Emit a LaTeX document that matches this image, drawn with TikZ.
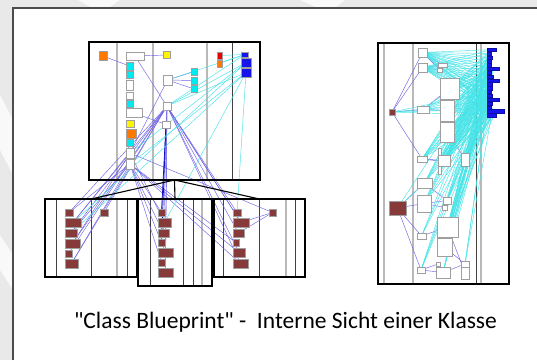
\documentclass[tikz,border=0pt]{standalone}
\usepackage{fontspec}
\setmainfont{Carlito}

\definecolor{callblue}{RGB}{112,100,228}
\definecolor{accesscyan}{RGB}{70,228,232}
\definecolor{attrblue}{RGB}{20,20,235}
\definecolor{brownred}{RGB}{135,58,58}
\definecolor{methorange}{RGB}{255,120,0}
\definecolor{methyellow}{RGB}{255,245,0}
\definecolor{methcyan}{RGB}{0,235,240}
\definecolor{methred}{RGB}{235,0,0}

\pgfdeclarelayer{back}
\pgfdeclarelayer{links}
\pgfsetlayers{back,links,main}

% one small method/attribute box of a blueprint
\newcommand{\mcell}[5]{\node[cellbox, fill=#2, minimum width=#4pt, minimum height=#5pt] (#1) at (#3) {};}

\begin{document}
\begin{tikzpicture}[x=1pt,y=-1pt,
  classframe/.style={draw=black, line width=1.1pt, inner sep=0, outer sep=0},
  lane/.style={gray!55, line width=1.2pt},
  thinlane/.style={black!75, line width=0.6pt},
  cellbox/.style={draw=gray!75, line width=0.6pt, inner sep=0, outer sep=0},
  attrbar/.style={draw=attrblue!70!black, fill=attrblue, line width=0.4pt, inner sep=0, outer sep=0, minimum height=3.3pt, anchor=north west},
  calledge/.style={callblue, line width=0.45pt},
  accessedge/.style={accesscyan, line width=0.45pt},
  directedge/.style={attrblue!85!black, line width=0.7pt}]

\useasboundingbox (0,0) rectangle (537,360);

% Draw the slide background and the white panel
\begin{pgfonlayer}{back}
\fill[gray!17] (0,0) rectangle (537,360);
\fill[gray!5] (78,0) -- (120,0) -- (108,8) -- (92,8) -- cycle;
\fill[gray!5] (300,0) -- (345,0) -- (335,8) -- (318,8) -- cycle;
\fill[gray!5] (0,95) -- (13,120) -- (13,175) -- (0,150) -- cycle;
\fill[gray!5] (0,235) -- (13,255) -- (13,290) -- (0,270) -- cycle;
\fill[white] (13,8) rectangle (537,360);
\end{pgfonlayer}
\draw[black!70, line width=1.4pt] (13,360) -- (13,8) -- (537,8);

% Draw the class frames
\node[classframe, minimum width=171pt, minimum height=138pt] (mainbox) at (174.5,111) {};
\node[classframe, minimum width=92pt, minimum height=78pt] (subA) at (91,238) {};
\node[classframe, minimum width=74pt, minimum height=87pt] (subB) at (175,242.5) {};
\node[classframe, minimum width=91pt, minimum height=78pt] (subC) at (259.5,238) {};
\node[classframe, minimum width=131pt, minimum height=241pt] (rightbox) at (443.5,163.5) {};

% Draw the layer lanes
\begin{pgfonlayer}{back}
\draw[lane] (117,42) -- (117,180);
\draw[lane] (153,42) -- (153,180);
\draw[lane] (207,42) -- (207,180);
\draw[thinlane] (232,42) -- (232,180);
\draw[thinlane] (56,199) -- (56,277);
\draw[thinlane] (91,199) -- (91,277);
\draw[lane] (117,199) -- (117,277);
\draw[thinlane] (127,199) -- (127,277);
\draw[thinlane] (150,199) -- (150,286);
\draw[thinlane] (183,199) -- (183,286);
\draw[thinlane] (193,199) -- (193,286);
\draw[lane] (202,199) -- (202,286);
\draw[thinlane] (223,199) -- (223,277);
\draw[thinlane] (259,199) -- (259,277);
\draw[lane] (286,199) -- (286,277);
\draw[thinlane] (295,199) -- (295,277);
\draw[lane] (384,43) -- (384,284);
\draw[lane] (413,43) -- (413,284);
\draw[thinlane] (476,43) -- (476,284);
\draw[lane] (481,43) -- (481,284);
\end{pgfonlayer}

% Draw the inheritance fan
\draw[line width=1.1pt] (mainbox.south) -- (subA.north);
\draw[line width=1.1pt] (mainbox.south) -- (subB.north);
\draw[line width=1.1pt] (mainbox.south) -- (subC.north);

% Draw the boxes of the main class
\mcell{mo1}{methorange}{103,56}{8}{9}
\mcell{mw1}{white}{135,56}{18}{8}
\mcell{my1}{methyellow}{166.5,55}{7}{7}
\mcell{mc1}{methcyan}{129.5,66}{7}{8}
\mcell{mc2}{methcyan}{129.5,74.5}{7}{7}
\mcell{mw2}{white}{129.5,85}{7}{10}
\mcell{mw3}{white}{129.5,95.5}{7}{7}
\mcell{mc3}{methcyan}{129.5,103.5}{7}{7}
\mcell{mw4}{white}{134,113}{16}{9}
\mcell{my2}{methyellow}{130,123.5}{8}{7}
\mcell{mo2}{methorange}{131,133.5}{10}{9}
\mcell{mc4}{methcyan}{129.5,142.5}{7}{7}
\mcell{mw5}{white}{130,153}{8}{10}
\mcell{mw6}{white}{130,164}{8}{10}
\mcell{ma1}{white}{167.5,80}{9}{10}
\mcell{ma2}{white}{167,106}{8}{8}
\mcell{ma3}{white}{166,124.5}{8}{7}
\mcell{mc5}{methcyan}{194,71.5}{6}{7}
\mcell{mc6}{methcyan}{194,80.5}{6}{7}
\mcell{mc7}{methcyan}{194,89}{6}{7}
\mcell{mr1}{methred}{219.5,55.5}{5}{7}
\mcell{mo3}{methorange}{219.5,63.5}{5}{7}
\mcell{mb1}{attrblue}{244.5,54.5}{7}{5}
\mcell{mb2}{attrblue}{246,62.5}{10}{9}
\mcell{mb3}{attrblue}{246,72.5}{10}{9}

% Draw the boxes of the three subclasses
\mcell{p1}{brownred}{69,212.5}{8}{7}
\mcell{p2}{brownred}{73,222.5}{16}{9}
\mcell{p3}{brownred}{71,233}{12}{8}
\mcell{p4}{brownred}{72.5,243.5}{15}{9}
\mcell{p5}{brownred}{68.5,253.5}{7}{7}
\mcell{p6}{brownred}{71.5,263.5}{13}{9}
\mcell{p7}{brownred}{104,212.5}{8}{7}
\mcell{q1}{brownred}{161.5,212.5}{7}{7}
\mcell{q2}{brownred}{164.5,222.5}{13}{9}
\mcell{q3}{brownred}{163.5,233}{11}{8}
\mcell{q4}{brownred}{161.5,242.5}{7}{7}
\mcell{q5}{brownred}{165.5,252.5}{15}{9}
\mcell{q6}{brownred}{161.5,262.5}{7}{7}
\mcell{q7}{brownred}{165.5,272.5}{15}{9}
\mcell{r1}{brownred}{237,212.5}{8}{7}
\mcell{r2}{brownred}{241,222.5}{16}{9}
\mcell{r3}{brownred}{238.5,233}{11}{8}
\mcell{r4}{brownred}{236,242.5}{6}{7}
\mcell{r5}{brownred}{239,252.5}{12}{9}
\mcell{r6}{brownred}{240.5,263.5}{15}{9}
\mcell{r7}{brownred}{272.5,212.5}{7}{7}

% Draw the boxes of the second class
\mcell{rw1}{white}{422.5,52.5}{9}{9}
\mcell{rw2}{white}{422.5,67.5}{9}{9}
\mcell{rs1}{white}{442.5,65}{9}{4}
\mcell{rs2}{white}{440,70}{5}{4}
\mcell{rbr1}{brownred}{392,112}{6}{6}
\mcell{rw3}{white}{423,109.5}{12}{7}
\mcell{rbigA}{white}{449.5,88.5}{19}{21}
\mcell{rbigB}{white}{447,110.5}{14}{21}
\mcell{rbigC}{white}{447,132}{14}{20}
\mcell{rw4}{white}{422,159}{10}{6}
\mcell{rthin}{white}{439.5,161}{3}{26}
\mcell{rbox}{white}{444.5,160.5}{12}{11}
\mcell{rtall}{white}{465.5,159.5}{8}{13}
\mcell{rw5}{white}{424.5,183}{15}{10}
\mcell{rw6}{white}{424,203.5}{14}{17}
\mcell{rsp1}{white}{447,200.5}{8}{7}
\mcell{rsp2}{white}{445,207.5}{5}{5}
\mcell{rbr2}{brownred}{397.5,208}{17}{14}
\mcell{rbig}{white}{447.5,227}{21}{20}
\mcell{rbig2}{white}{444.5,247}{15}{18}
\mcell{rw7}{white}{421.5,236}{9}{6}
\mcell{rw8}{white}{421,270}{8}{6}
\mcell{rsm}{white}{438,264}{4}{4}
\mcell{rbox2}{white}{443,272.5}{14}{11}
\mcell{rpair1}{white}{465,264}{8}{6}
\mcell{rpair2}{white}{465,273}{8}{12}

% Draw the attribute bars
\foreach \w [count=\i] in {9,4.5,5,4.5,4.5,12,4.5,6,12,5,5,4.5,5,12,5,4.5,17,9}
  \node[attrbar, minimum width=\w pt] (bar\i) at (487,{48+3.85*(\i-1)}) {};

% Draw the calls and accesses
\begin{pgfonlayer}{links}
\foreach \a/\b in {mo1/mc1, mw1/my1, mw1/r2, ma1/mc5, ma1/mc6, ma1/mc7, ma1/mw5, mw4/ma3,
    ma2/p1, ma2/p2, ma2/p3, ma2/p4, ma2/p5, ma2/p6, ma2/p7, ma2/q1, ma2/q3, ma2/q5, ma2/q7,
    ma2/r1, ma2/r2, ma2/r3, ma2/r5, ma2/r6, mw5/p2, mw5/p4, mw5/q2, mw5/r7,
    mw6/p1, mw6/p3, mw6/p6, mw6/q1, mw6/q3, mw6/q5, mw6/q6, mw6/r4, mw6/r5, mw6/r6,
    r7/r2, r7/r3}
  \draw[calledge] (\a) -- (\b);
\draw[directedge] (ma3) -- (q1);
\draw[directedge] (ma3) -- (q4);
\foreach \a/\b in {mr1/mb1, mo3/mb1, mb1/ma1, mb1/ma2, mb2/ma2, mb3/ma2, mb2/mw5, mb3/mw6,
    mb2/p2, mb3/p3, mb3/q2, mb3/r1}
  \draw[accessedge] (\a) -- (\b);

\foreach \a/\b in {rbr1/rw1, rbr1/rw2, rbr1/rw3, rbr1/rw4, rw1/rs1, rw1/rs2, rw2/rs1, rw2/rs2,
    rw3/rbigA, rw3/rbigB, rbigC/rtall, rw4/rthin, rw4/rbox, rbr2/rw5, rbr2/rw6, rbr2/rw7,
    rbr2/rw8, rw6/rsp1, rw6/rsp2, rw5/rsp1, rw7/rbig, rbig2/rpair1, rw8/rsm, rw8/rbox2,
    rbox2/rpair1, rbig/rpair2}
  \draw[calledge] (\a) -- (\b);
\foreach \a/\b in {rbr1/rbigB, rbr2/rw5, rbr2/rbigC}
  \draw[accessedge] (\a) -- (\b);
\foreach \i in {1,...,18} {
  \draw[accessedge] (rw1) -- (bar\i);
  \draw[accessedge] (rw2) -- (bar\i);
  \draw[accessedge] (rbox) -- (bar\i);
}
\foreach \i in {4,6,...,18}
  \draw[accessedge] (rw3) -- (bar\i);
\foreach \i in {1,...,10}
  \draw[accessedge] (rbigA) -- (bar\i);
\foreach \i in {5,...,18}
  \draw[accessedge] (rbigB) -- (bar\i);
\foreach \i in {8,...,18}
  \draw[accessedge] (rbigC) -- (bar\i);
\foreach \i in {10,...,18}
  \draw[accessedge] (rtall) -- (bar\i);
\foreach \i in {12,15,18}
  \draw[accessedge] (rbr1) -- (bar\i);
\foreach \i in {1,3,...,17} {
  \draw[accessedge] (rw4) -- (bar\i);
  \draw[accessedge] (rbig) -- (bar\i);
}
\foreach \i in {2,4,...,18} {
  \draw[accessedge] (rthin) -- (bar\i);
  \draw[accessedge] (rbig2) -- (bar\i);
}
\foreach \i in {1,4,...,16}
  \draw[accessedge] (rw5) -- (bar\i);
\foreach \i in {2,5,...,17}
  \draw[accessedge] (rw6) -- (bar\i);
\foreach \i in {3,6,...,18}
  \draw[accessedge] (rsp1) -- (bar\i);
\foreach \i in {5,10,15}
  \draw[accessedge] (rw7) -- (bar\i);
\foreach \i in {4,8,12,16}
  \draw[accessedge] (rw8) -- (bar\i);
\foreach \i in {3,7,11,15}
  \draw[accessedge] (rbox2) -- (bar\i);
\foreach \i in {6,12,18}
  \draw[accessedge] (rpair1) -- (bar\i);
\end{pgfonlayer}

% Draw the caption
\node[font=\fontsize{23.5}{28}\selectfont, anchor=base] (caption) at (285.5,328)
  {\textquotedbl Class Blueprint\textquotedbl\ -\ \ Interne Sicht einer Klasse};

\end{tikzpicture}
\end{document}
